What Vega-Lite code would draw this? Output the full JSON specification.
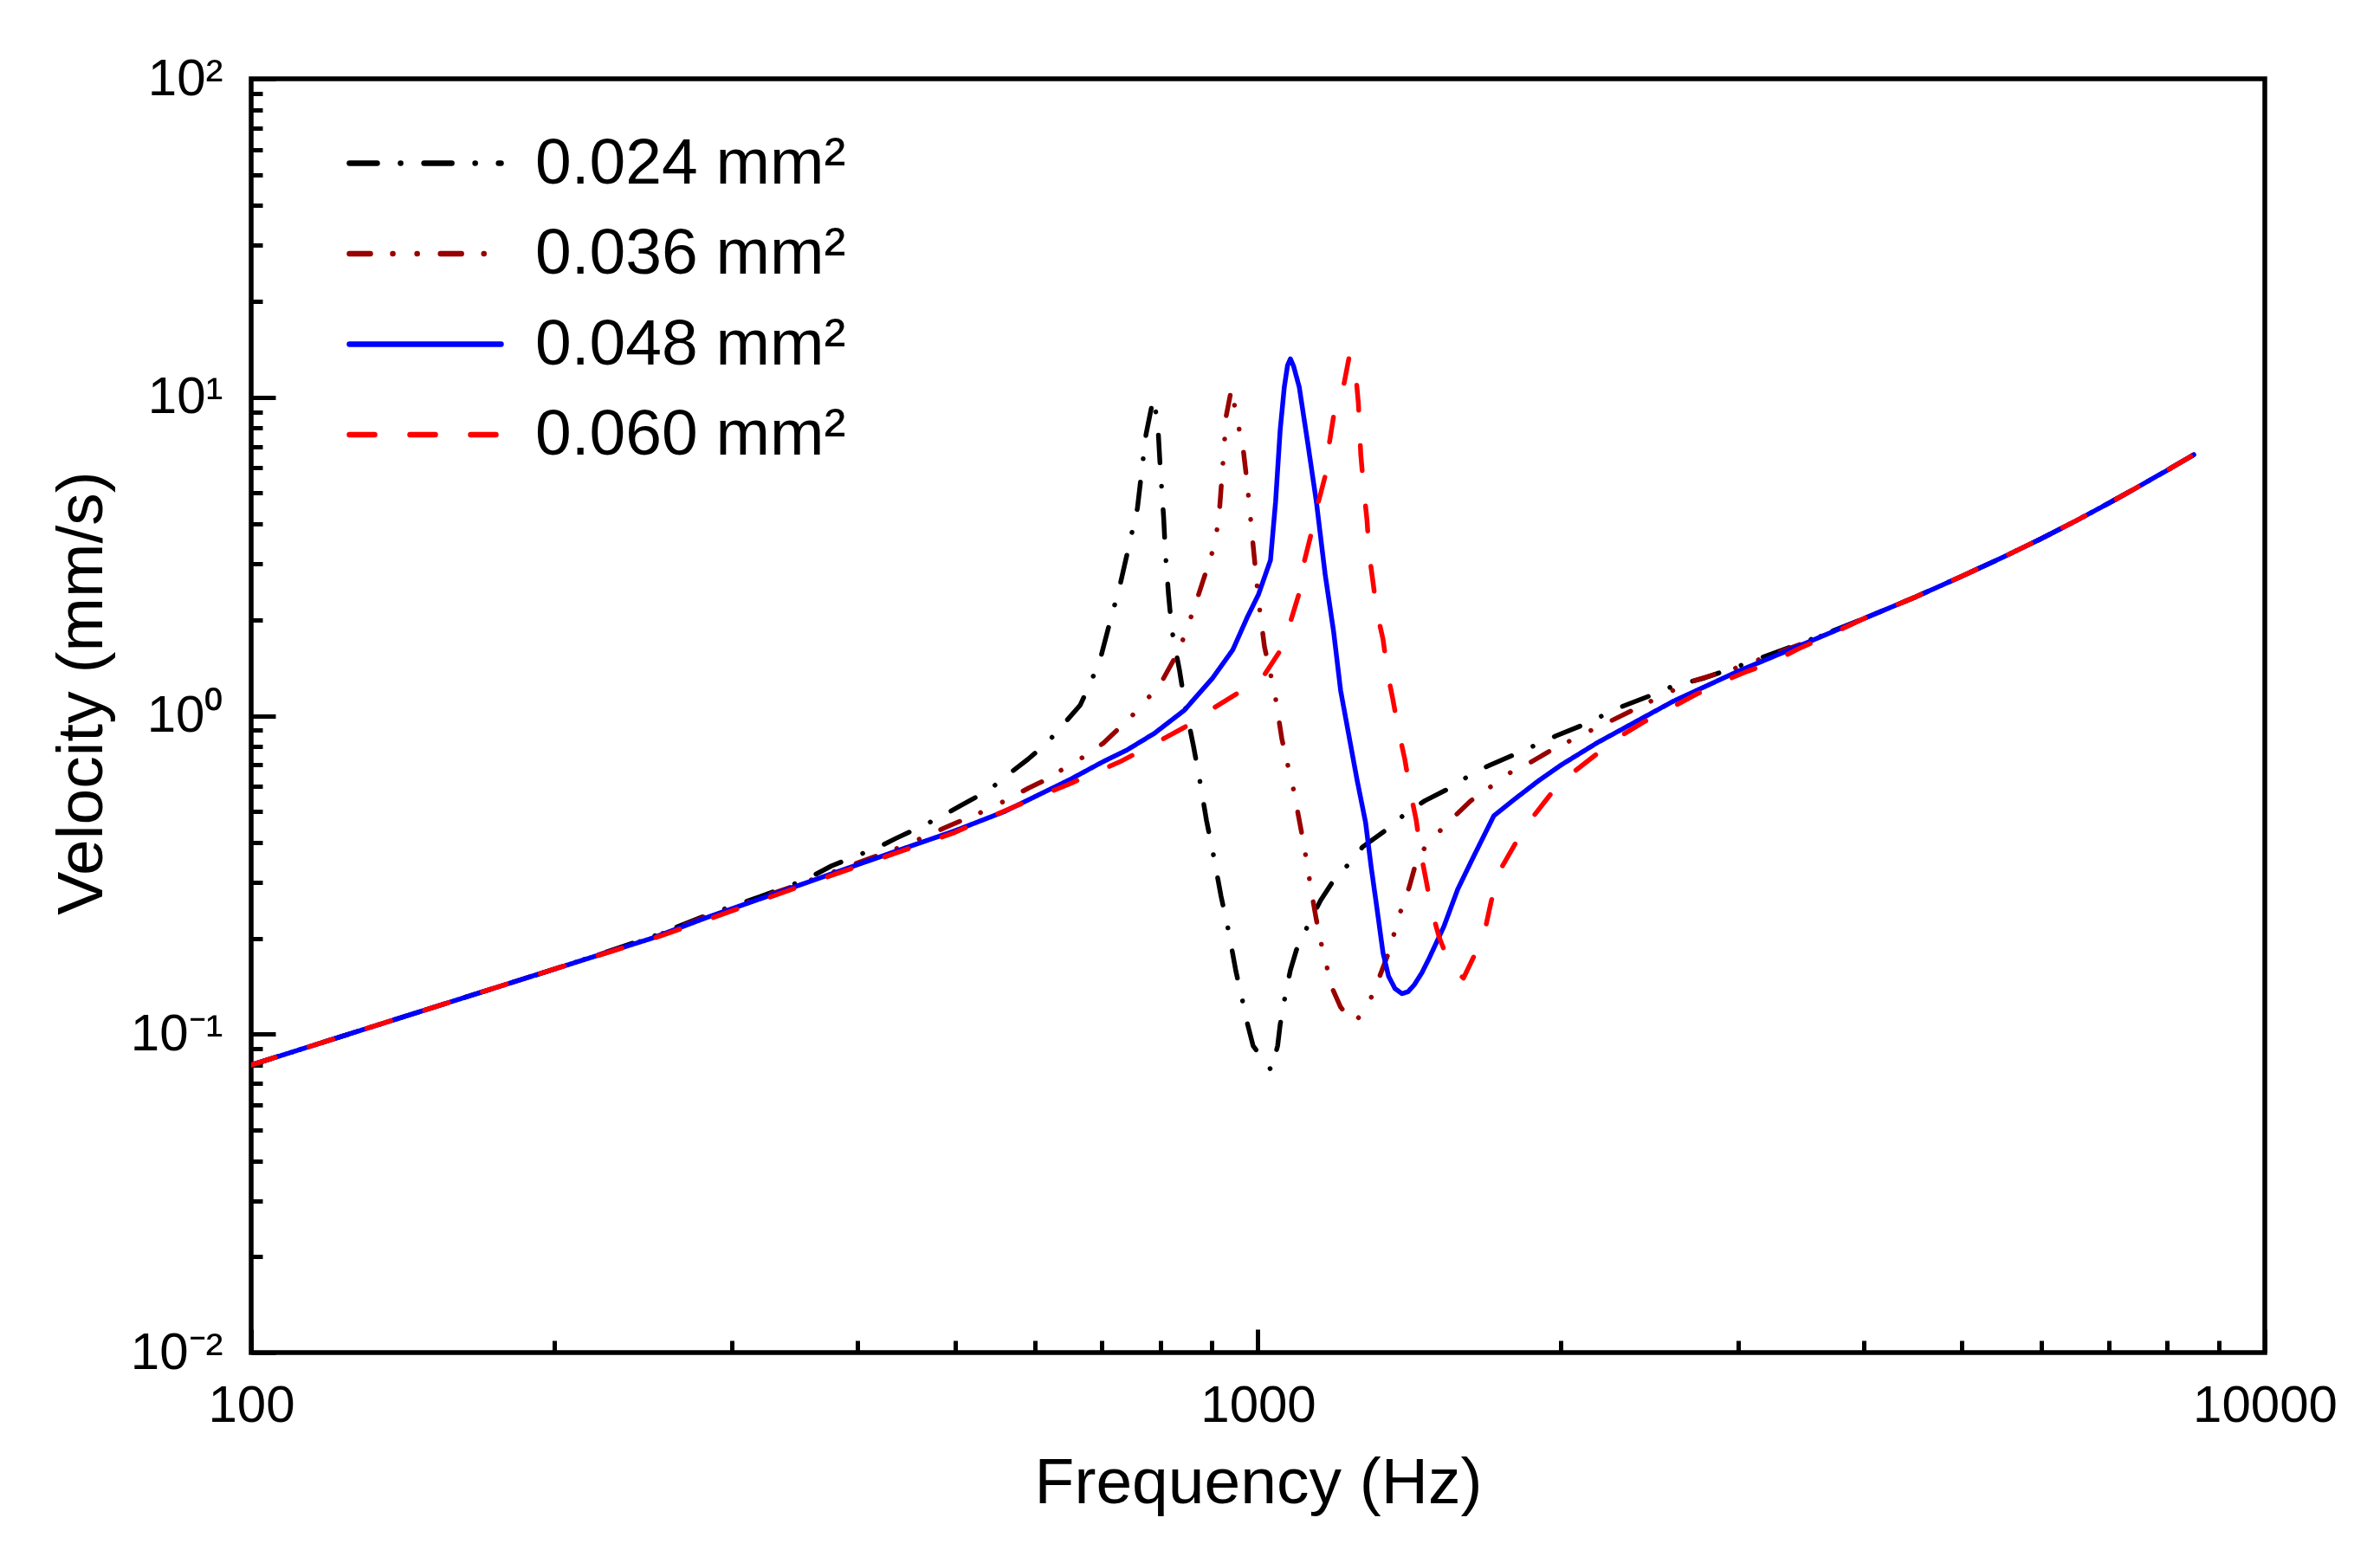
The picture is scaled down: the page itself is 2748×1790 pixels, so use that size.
{
  "$schema": "https://vega.github.io/schema/vega-lite/v6.json",
  "width": 2325,
  "height": 1471,
  "autosize": "none",
  "padding": {"left": 290, "top": 91, "right": 133, "bottom": 228},
  "background": "white",
  "config": {
    "font": "Liberation Sans",
    "view": {"stroke": "black", "strokeWidth": 5.5},
    "axis": {
      "domain": false,
      "grid": false,
      "tickColor": "black",
      "tickWidth": 5,
      "labelFont": "Liberation Sans",
      "labelFontSize": 60,
      "labelColor": "black",
      "titleFont": "Liberation Sans",
      "titleFontSize": 75,
      "titleFontWeight": "normal",
      "titleColor": "black",
      "labelOverlap": false,
      "labelBound": false,
      "labelFlush": false
    }
  },
  "data": {
    "values": [
      {"area": "0.024 mm²", "freq": 100, "vel": 0.080},
      {"area": "0.024 mm²", "freq": 125, "vel": 0.100},
      {"area": "0.024 mm²", "freq": 160, "vel": 0.128},
      {"area": "0.024 mm²", "freq": 200, "vel": 0.160},
      {"area": "0.024 mm²", "freq": 250, "vel": 0.202},
      {"area": "0.024 mm²", "freq": 283, "vel": 0.236},
      {"area": "0.024 mm²", "freq": 320, "vel": 0.270},
      {"area": "0.024 mm²", "freq": 355, "vel": 0.305},
      {"area": "0.024 mm²", "freq": 377, "vel": 0.3375},
      {"area": "0.024 mm²", "freq": 402, "vel": 0.366},
      {"area": "0.024 mm²", "freq": 420, "vel": 0.387},
      {"area": "0.024 mm²", "freq": 437, "vel": 0.412},
      {"area": "0.024 mm²", "freq": 466, "vel": 0.453},
      {"area": "0.024 mm²", "freq": 486, "vel": 0.485},
      {"area": "0.024 mm²", "freq": 507, "vel": 0.523},
      {"area": "0.024 mm²", "freq": 541, "vel": 0.585},
      {"area": "0.024 mm²", "freq": 560, "vel": 0.64},
      {"area": "0.024 mm²", "freq": 591, "vel": 0.73},
      {"area": "0.024 mm²", "freq": 617, "vel": 0.82},
      {"area": "0.024 mm²", "freq": 637, "vel": 0.919},
      {"area": "0.024 mm²", "freq": 666, "vel": 1.08},
      {"area": "0.024 mm²", "freq": 684, "vel": 1.3},
      {"area": "0.024 mm²", "freq": 697, "vel": 1.5},
      {"area": "0.024 mm²", "freq": 711, "vel": 1.91},
      {"area": "0.024 mm²", "freq": 729, "vel": 2.55},
      {"area": "0.024 mm²", "freq": 742, "vel": 3.26},
      {"area": "0.024 mm²", "freq": 759, "vel": 4.48},
      {"area": "0.024 mm²", "freq": 774, "vel": 7.63},
      {"area": "0.024 mm²", "freq": 787, "vel": 9.9},
      {"area": "0.024 mm²", "freq": 795, "vel": 8.38},
      {"area": "0.024 mm²", "freq": 799, "vel": 6.3},
      {"area": "0.024 mm²", "freq": 806, "vel": 4.18},
      {"area": "0.024 mm²", "freq": 809, "vel": 3.27},
      {"area": "0.024 mm²", "freq": 815, "vel": 2.40},
      {"area": "0.024 mm²", "freq": 821, "vel": 1.865},
      {"area": "0.024 mm²", "freq": 836, "vel": 1.38},
      {"area": "0.024 mm²", "freq": 846, "vel": 1.09},
      {"area": "0.024 mm²", "freq": 863, "vel": 0.80},
      {"area": "0.024 mm²", "freq": 875, "vel": 0.631},
      {"area": "0.024 mm²", "freq": 889, "vel": 0.468},
      {"area": "0.024 mm²", "freq": 903, "vel": 0.366},
      {"area": "0.024 mm²", "freq": 919, "vel": 0.271},
      {"area": "0.024 mm²", "freq": 934, "vel": 0.214},
      {"area": "0.024 mm²", "freq": 951, "vel": 0.157},
      {"area": "0.024 mm²", "freq": 967, "vel": 0.124},
      {"area": "0.024 mm²", "freq": 976, "vel": 0.108},
      {"area": "0.024 mm²", "freq": 989, "vel": 0.0918},
      {"area": "0.024 mm²", "freq": 1031, "vel": 0.077},
      {"area": "0.024 mm²", "freq": 1046, "vel": 0.092},
      {"area": "0.024 mm²", "freq": 1052, "vel": 0.107},
      {"area": "0.024 mm²", "freq": 1066, "vel": 0.136},
      {"area": "0.024 mm²", "freq": 1077, "vel": 0.159},
      {"area": "0.024 mm²", "freq": 1092, "vel": 0.184},
      {"area": "0.024 mm²", "freq": 1127, "vel": 0.2275},
      {"area": "0.024 mm²", "freq": 1154, "vel": 0.263},
      {"area": "0.024 mm²", "freq": 1184, "vel": 0.298},
      {"area": "0.024 mm²", "freq": 1243, "vel": 0.355},
      {"area": "0.024 mm²", "freq": 1270, "vel": 0.387},
      {"area": "0.024 mm²", "freq": 1353, "vel": 0.447},
      {"area": "0.024 mm²", "freq": 1399, "vel": 0.491},
      {"area": "0.024 mm²", "freq": 1464, "vel": 0.54},
      {"area": "0.024 mm²", "freq": 1563, "vel": 0.60},
      {"area": "0.024 mm²", "freq": 1623, "vel": 0.651},
      {"area": "0.024 mm²", "freq": 1689, "vel": 0.693},
      {"area": "0.024 mm²", "freq": 1810, "vel": 0.762},
      {"area": "0.024 mm²", "freq": 1975, "vel": 0.863},
      {"area": "0.024 mm²", "freq": 2104, "vel": 0.936},
      {"area": "0.024 mm²", "freq": 2286, "vel": 1.061},
      {"area": "0.024 mm²", "freq": 2470, "vel": 1.166},
      {"area": "0.024 mm²", "freq": 2575, "vel": 1.233},
      {"area": "0.024 mm²", "freq": 2776, "vel": 1.313},
      {"area": "0.024 mm²", "freq": 3000, "vel": 1.43},
      {"area": "0.024 mm²", "freq": 3500, "vel": 1.71},
      {"area": "0.024 mm²", "freq": 4000, "vel": 2.02},
      {"area": "0.024 mm²", "freq": 4500, "vel": 2.36},
      {"area": "0.024 mm²", "freq": 5000, "vel": 2.74},
      {"area": "0.024 mm²", "freq": 5500, "vel": 3.15},
      {"area": "0.024 mm²", "freq": 6000, "vel": 3.6},
      {"area": "0.024 mm²", "freq": 6500, "vel": 4.1},
      {"area": "0.024 mm²", "freq": 7000, "vel": 4.65},
      {"area": "0.024 mm²", "freq": 7500, "vel": 5.25},
      {"area": "0.024 mm²", "freq": 8000, "vel": 5.9},
      {"area": "0.024 mm²", "freq": 8500, "vel": 6.6},

      {"area": "0.036 mm²", "freq": 100, "vel": 0.080},
      {"area": "0.036 mm²", "freq": 125, "vel": 0.100},
      {"area": "0.036 mm²", "freq": 160, "vel": 0.128},
      {"area": "0.036 mm²", "freq": 200, "vel": 0.160},
      {"area": "0.036 mm²", "freq": 250, "vel": 0.201},
      {"area": "0.036 mm²", "freq": 283, "vel": 0.234},
      {"area": "0.036 mm²", "freq": 355, "vel": 0.300},
      {"area": "0.036 mm²", "freq": 445, "vel": 0.39},
      {"area": "0.036 mm²", "freq": 495, "vel": 0.453},
      {"area": "0.036 mm²", "freq": 519, "vel": 0.482},
      {"area": "0.036 mm²", "freq": 543, "vel": 0.513},
      {"area": "0.036 mm²", "freq": 564, "vel": 0.546},
      {"area": "0.036 mm²", "freq": 592, "vel": 0.593},
      {"area": "0.036 mm²", "freq": 617, "vel": 0.631},
      {"area": "0.036 mm²", "freq": 646, "vel": 0.693},
      {"area": "0.036 mm²", "freq": 676, "vel": 0.752},
      {"area": "0.036 mm²", "freq": 702, "vel": 0.82},
      {"area": "0.036 mm²", "freq": 726, "vel": 0.907},
      {"area": "0.036 mm²", "freq": 757, "vel": 1.03},
      {"area": "0.036 mm²", "freq": 800, "vel": 1.258},
      {"area": "0.036 mm²", "freq": 833, "vel": 1.585},
      {"area": "0.036 mm²", "freq": 849, "vel": 1.85},
      {"area": "0.036 mm²", "freq": 871, "vel": 2.35},
      {"area": "0.036 mm²", "freq": 892, "vel": 2.96},
      {"area": "0.036 mm²", "freq": 907, "vel": 3.49},
      {"area": "0.036 mm²", "freq": 916, "vel": 4.48},
      {"area": "0.036 mm²", "freq": 925, "vel": 6.82},
      {"area": "0.036 mm²", "freq": 930, "vel": 8.75},
      {"area": "0.036 mm²", "freq": 941, "vel": 10.6},
      {"area": "0.036 mm²", "freq": 952, "vel": 8.75},
      {"area": "0.036 mm²", "freq": 967, "vel": 6.82},
      {"area": "0.036 mm²", "freq": 976, "vel": 5.31},
      {"area": "0.036 mm²", "freq": 989, "vel": 3.42},
      {"area": "0.036 mm²", "freq": 1001, "vel": 2.31},
      {"area": "0.036 mm²", "freq": 1015, "vel": 1.645},
      {"area": "0.036 mm²", "freq": 1039, "vel": 1.18},
      {"area": "0.036 mm²", "freq": 1056, "vel": 0.847},
      {"area": "0.036 mm²", "freq": 1066, "vel": 0.738},
      {"area": "0.036 mm²", "freq": 1081, "vel": 0.619},
      {"area": "0.036 mm²", "freq": 1092, "vel": 0.523},
      {"area": "0.036 mm²", "freq": 1103, "vel": 0.442},
      {"area": "0.036 mm²", "freq": 1113, "vel": 0.378},
      {"area": "0.036 mm²", "freq": 1123, "vel": 0.317},
      {"area": "0.036 mm²", "freq": 1132, "vel": 0.271},
      {"area": "0.036 mm²", "freq": 1143, "vel": 0.228},
      {"area": "0.036 mm²", "freq": 1154, "vel": 0.196},
      {"area": "0.036 mm²", "freq": 1170, "vel": 0.164},
      {"area": "0.036 mm²", "freq": 1182, "vel": 0.142},
      {"area": "0.036 mm²", "freq": 1208, "vel": 0.1216},
      {"area": "0.036 mm²", "freq": 1230, "vel": 0.113},
      {"area": "0.036 mm²", "freq": 1250, "vel": 0.110},
      {"area": "0.036 mm²", "freq": 1272, "vel": 0.117},
      {"area": "0.036 mm²", "freq": 1295, "vel": 0.130},
      {"area": "0.036 mm²", "freq": 1321, "vel": 0.152},
      {"area": "0.036 mm²", "freq": 1348, "vel": 0.18},
      {"area": "0.036 mm²", "freq": 1366, "vel": 0.208},
      {"area": "0.036 mm²", "freq": 1385, "vel": 0.242},
      {"area": "0.036 mm²", "freq": 1413, "vel": 0.289},
      {"area": "0.036 mm²", "freq": 1430, "vel": 0.331},
      {"area": "0.036 mm²", "freq": 1464, "vel": 0.385},
      {"area": "0.036 mm²", "freq": 1514, "vel": 0.433},
      {"area": "0.036 mm²", "freq": 1576, "vel": 0.491},
      {"area": "0.036 mm²", "freq": 1626, "vel": 0.54},
      {"area": "0.036 mm²", "freq": 1705, "vel": 0.60},
      {"area": "0.036 mm²", "freq": 1775, "vel": 0.659},
      {"area": "0.036 mm²", "freq": 1868, "vel": 0.716},
      {"area": "0.036 mm²", "freq": 1951, "vel": 0.776},
      {"area": "0.036 mm²", "freq": 2129, "vel": 0.891},
      {"area": "0.036 mm²", "freq": 2246, "vel": 0.966},
      {"area": "0.036 mm²", "freq": 2575, "vel": 1.195},
      {"area": "0.036 mm²", "freq": 2695, "vel": 1.28},
      {"area": "0.036 mm²", "freq": 3000, "vel": 1.42},
      {"area": "0.036 mm²", "freq": 3500, "vel": 1.70},
      {"area": "0.036 mm²", "freq": 4000, "vel": 2.02},
      {"area": "0.036 mm²", "freq": 4500, "vel": 2.36},
      {"area": "0.036 mm²", "freq": 5000, "vel": 2.74},
      {"area": "0.036 mm²", "freq": 5500, "vel": 3.15},
      {"area": "0.036 mm²", "freq": 6000, "vel": 3.6},
      {"area": "0.036 mm²", "freq": 6500, "vel": 4.1},
      {"area": "0.036 mm²", "freq": 7000, "vel": 4.65},
      {"area": "0.036 mm²", "freq": 7500, "vel": 5.25},
      {"area": "0.036 mm²", "freq": 8000, "vel": 5.9},
      {"area": "0.036 mm²", "freq": 8500, "vel": 6.6},

      {"area": "0.048 mm²", "freq": 100, "vel": 0.080},
      {"area": "0.048 mm²", "freq": 125, "vel": 0.100},
      {"area": "0.048 mm²", "freq": 160, "vel": 0.128},
      {"area": "0.048 mm²", "freq": 200, "vel": 0.160},
      {"area": "0.048 mm²", "freq": 250, "vel": 0.200},
      {"area": "0.048 mm²", "freq": 283, "vel": 0.232},
      {"area": "0.048 mm²", "freq": 355, "vel": 0.298},
      {"area": "0.048 mm²", "freq": 445, "vel": 0.383},
      {"area": "0.048 mm²", "freq": 500, "vel": 0.435},
      {"area": "0.048 mm²", "freq": 560, "vel": 0.50},
      {"area": "0.048 mm²", "freq": 651, "vel": 0.631},
      {"area": "0.048 mm²", "freq": 701, "vel": 0.716},
      {"area": "0.048 mm²", "freq": 741, "vel": 0.78},
      {"area": "0.048 mm²", "freq": 789, "vel": 0.88},
      {"area": "0.048 mm²", "freq": 845, "vel": 1.04},
      {"area": "0.048 mm²", "freq": 901, "vel": 1.31},
      {"area": "0.048 mm²", "freq": 944, "vel": 1.61},
      {"area": "0.048 mm²", "freq": 976, "vel": 2.04},
      {"area": "0.048 mm²", "freq": 1001, "vel": 2.40},
      {"area": "0.048 mm²", "freq": 1029, "vel": 3.08},
      {"area": "0.048 mm²", "freq": 1041, "vel": 4.68},
      {"area": "0.048 mm²", "freq": 1052, "vel": 7.87},
      {"area": "0.048 mm²", "freq": 1062, "vel": 10.76},
      {"area": "0.048 mm²", "freq": 1070, "vel": 12.6},
      {"area": "0.048 mm²", "freq": 1077, "vel": 13.2},
      {"area": "0.048 mm²", "freq": 1085, "vel": 12.5},
      {"area": "0.048 mm²", "freq": 1099, "vel": 10.76},
      {"area": "0.048 mm²", "freq": 1121, "vel": 7.12},
      {"area": "0.048 mm²", "freq": 1143, "vel": 4.68},
      {"area": "0.048 mm²", "freq": 1166, "vel": 2.78},
      {"area": "0.048 mm²", "freq": 1189, "vel": 1.83},
      {"area": "0.048 mm²", "freq": 1208, "vel": 1.20},
      {"area": "0.048 mm²", "freq": 1230, "vel": 0.88},
      {"area": "0.048 mm²", "freq": 1254, "vel": 0.631},
      {"area": "0.048 mm²", "freq": 1279, "vel": 0.462},
      {"area": "0.048 mm²", "freq": 1295, "vel": 0.3375},
      {"area": "0.048 mm²", "freq": 1313, "vel": 0.247},
      {"area": "0.048 mm²", "freq": 1331, "vel": 0.180},
      {"area": "0.048 mm²", "freq": 1348, "vel": 0.152},
      {"area": "0.048 mm²", "freq": 1368, "vel": 0.139},
      {"area": "0.048 mm²", "freq": 1390, "vel": 0.134},
      {"area": "0.048 mm²", "freq": 1410, "vel": 0.136},
      {"area": "0.048 mm²", "freq": 1430, "vel": 0.143},
      {"area": "0.048 mm²", "freq": 1455, "vel": 0.156},
      {"area": "0.048 mm²", "freq": 1479, "vel": 0.173},
      {"area": "0.048 mm²", "freq": 1530, "vel": 0.218},
      {"area": "0.048 mm²", "freq": 1579, "vel": 0.285},
      {"area": "0.048 mm²", "freq": 1633, "vel": 0.355},
      {"area": "0.048 mm²", "freq": 1689, "vel": 0.44},
      {"area": "0.048 mm²", "freq": 1715, "vel": 0.485},
      {"area": "0.048 mm²", "freq": 1800, "vel": 0.548},
      {"area": "0.048 mm²", "freq": 1900, "vel": 0.625},
      {"area": "0.048 mm²", "freq": 2000, "vel": 0.70},
      {"area": "0.048 mm²", "freq": 2172, "vel": 0.822},
      {"area": "0.048 mm²", "freq": 2585, "vel": 1.11},
      {"area": "0.048 mm²", "freq": 3000, "vel": 1.38},
      {"area": "0.048 mm²", "freq": 3500, "vel": 1.69},
      {"area": "0.048 mm²", "freq": 4000, "vel": 2.02},
      {"area": "0.048 mm²", "freq": 4500, "vel": 2.36},
      {"area": "0.048 mm²", "freq": 5000, "vel": 2.74},
      {"area": "0.048 mm²", "freq": 5500, "vel": 3.15},
      {"area": "0.048 mm²", "freq": 6000, "vel": 3.6},
      {"area": "0.048 mm²", "freq": 6500, "vel": 4.1},
      {"area": "0.048 mm²", "freq": 7000, "vel": 4.65},
      {"area": "0.048 mm²", "freq": 7500, "vel": 5.25},
      {"area": "0.048 mm²", "freq": 8000, "vel": 5.9},
      {"area": "0.048 mm²", "freq": 8500, "vel": 6.6},

      {"area": "0.060 mm²", "freq": 100, "vel": 0.080},
      {"area": "0.060 mm²", "freq": 125, "vel": 0.100},
      {"area": "0.060 mm²", "freq": 160, "vel": 0.128},
      {"area": "0.060 mm²", "freq": 200, "vel": 0.160},
      {"area": "0.060 mm²", "freq": 250, "vel": 0.199},
      {"area": "0.060 mm²", "freq": 283, "vel": 0.228},
      {"area": "0.060 mm²", "freq": 355, "vel": 0.295},
      {"area": "0.060 mm²", "freq": 445, "vel": 0.378},
      {"area": "0.060 mm²", "freq": 500, "vel": 0.43},
      {"area": "0.060 mm²", "freq": 577, "vel": 0.523},
      {"area": "0.060 mm²", "freq": 651, "vel": 0.612},
      {"area": "0.060 mm²", "freq": 729, "vel": 0.716},
      {"area": "0.060 mm²", "freq": 801, "vel": 0.838},
      {"area": "0.060 mm²", "freq": 845, "vel": 0.919},
      {"area": "0.060 mm²", "freq": 905, "vel": 1.06},
      {"area": "0.060 mm²", "freq": 956, "vel": 1.18},
      {"area": "0.060 mm²", "freq": 1010, "vel": 1.313},
      {"area": "0.060 mm²", "freq": 1050, "vel": 1.585},
      {"area": "0.060 mm²", "freq": 1077, "vel": 1.97},
      {"area": "0.060 mm²", "freq": 1099, "vel": 2.43},
      {"area": "0.060 mm²", "freq": 1112, "vel": 3.06},
      {"area": "0.060 mm²", "freq": 1129, "vel": 3.71},
      {"area": "0.060 mm²", "freq": 1148, "vel": 4.68},
      {"area": "0.060 mm²", "freq": 1166, "vel": 5.65},
      {"area": "0.060 mm²", "freq": 1178, "vel": 7.27},
      {"area": "0.060 mm²", "freq": 1189, "vel": 8.75},
      {"area": "0.060 mm²", "freq": 1218, "vel": 11.1},
      {"area": "0.060 mm²", "freq": 1233, "vel": 13.6},
      {"area": "0.060 mm²", "freq": 1250, "vel": 12.0},
      {"area": "0.060 mm²", "freq": 1258, "vel": 9.6},
      {"area": "0.060 mm²", "freq": 1265, "vel": 6.6},
      {"area": "0.060 mm²", "freq": 1275, "vel": 4.98},
      {"area": "0.060 mm²", "freq": 1283, "vel": 4.13},
      {"area": "0.060 mm²", "freq": 1290, "vel": 3.2},
      {"area": "0.060 mm²", "freq": 1300, "vel": 2.67},
      {"area": "0.060 mm²", "freq": 1313, "vel": 2.10},
      {"area": "0.060 mm²", "freq": 1331, "vel": 1.74},
      {"area": "0.060 mm²", "freq": 1345, "vel": 1.36},
      {"area": "0.060 mm²", "freq": 1361, "vel": 1.13},
      {"area": "0.060 mm²", "freq": 1380, "vel": 0.89},
      {"area": "0.060 mm²", "freq": 1399, "vel": 0.73},
      {"area": "0.060 mm²", "freq": 1416, "vel": 0.582},
      {"area": "0.060 mm²", "freq": 1436, "vel": 0.47},
      {"area": "0.060 mm²", "freq": 1450, "vel": 0.375},
      {"area": "0.060 mm²", "freq": 1468, "vel": 0.307},
      {"area": "0.060 mm²", "freq": 1488, "vel": 0.2436},
      {"area": "0.060 mm²", "freq": 1514, "vel": 0.2007},
      {"area": "0.060 mm²", "freq": 1540, "vel": 0.175},
      {"area": "0.060 mm²", "freq": 1563, "vel": 0.159},
      {"area": "0.060 mm²", "freq": 1600, "vel": 0.150},
      {"area": "0.060 mm²", "freq": 1649, "vel": 0.183},
      {"area": "0.060 mm²", "freq": 1682, "vel": 0.215},
      {"area": "0.060 mm²", "freq": 1705, "vel": 0.262},
      {"area": "0.060 mm²", "freq": 1742, "vel": 0.33},
      {"area": "0.060 mm²", "freq": 1810, "vel": 0.407},
      {"area": "0.060 mm²", "freq": 1879, "vel": 0.485},
      {"area": "0.060 mm²", "freq": 1959, "vel": 0.574},
      {"area": "0.060 mm²", "freq": 2050, "vel": 0.659},
      {"area": "0.060 mm²", "freq": 2163, "vel": 0.752},
      {"area": "0.060 mm²", "freq": 2278, "vel": 0.853},
      {"area": "0.060 mm²", "freq": 2431, "vel": 0.966},
      {"area": "0.060 mm²", "freq": 2575, "vel": 1.061},
      {"area": "0.060 mm²", "freq": 2722, "vel": 1.166},
      {"area": "0.060 mm²", "freq": 2883, "vel": 1.273},
      {"area": "0.060 mm²", "freq": 3066, "vel": 1.38},
      {"area": "0.060 mm²", "freq": 3240, "vel": 1.47},
      {"area": "0.060 mm²", "freq": 3431, "vel": 1.614},
      {"area": "0.060 mm²", "freq": 3649, "vel": 1.76},
      {"area": "0.060 mm²", "freq": 4000, "vel": 2.02},
      {"area": "0.060 mm²", "freq": 4500, "vel": 2.36},
      {"area": "0.060 mm²", "freq": 5000, "vel": 2.74},
      {"area": "0.060 mm²", "freq": 5500, "vel": 3.15},
      {"area": "0.060 mm²", "freq": 6000, "vel": 3.6},
      {"area": "0.060 mm²", "freq": 6500, "vel": 4.1},
      {"area": "0.060 mm²", "freq": 7000, "vel": 4.65},
      {"area": "0.060 mm²", "freq": 7500, "vel": 5.25},
      {"area": "0.060 mm²", "freq": 8000, "vel": 5.9},
      {"area": "0.060 mm²", "freq": 8500, "vel": 6.6}
    ]
  },
  "mark": {"type": "line", "strokeWidth": 5.5, "strokeCap": "round", "strokeJoin": "round", "interpolate": "linear", "clip": true},
  "encoding": {
    "x": {
      "field": "freq",
      "type": "quantitative",
      "scale": {"type": "log", "domain": [100, 10000], "nice": false},
      "axis": {
        "title": "Frequency (Hz)",
        "values": [100, 200, 300, 400, 500, 600, 700, 800, 900, 1000, 2000, 3000, 4000, 5000, 6000, 7000, 8000, 9000, 10000],
        "format": "d",
        "labelExpr": "datum.value == 100 || datum.value == 1000 || datum.value == 10000 ? datum.label : ''",
        "tickSize": {"condition": {"test": "datum.value == 100 || datum.value == 1000 || datum.value == 10000", "value": -27}, "value": -14},
        "labelPadding": 59,
        "labelBaseline": "top",
        "titleY": 173,
        "titleBaseline": "alphabetic"
      }
    },
    "y": {
      "field": "vel",
      "type": "quantitative",
      "scale": {"type": "log", "domain": [0.01, 100], "nice": false},
      "axis": {
        "title": "Velocity (mm/s)",
        "values": [0.01, 0.02, 0.03, 0.04, 0.05, 0.06, 0.07, 0.08, 0.09, 0.1, 0.2, 0.3, 0.4, 0.5, 0.6, 0.7, 0.8, 0.9, 1, 2, 3, 4, 5, 6, 7, 8, 9, 10, 20, 30, 40, 50, 60, 70, 80, 90, 100],
        "labelExpr": "datum.value == 100 ? '10²' : datum.value == 10 ? '10¹' : datum.value == 1 ? '10⁰' : datum.value == 0.1 ? '10⁻¹' : datum.value == 0.01 ? '10⁻²' : ''",
        "tickSize": {"condition": {"test": "datum.value == 0.01 || datum.value == 0.1 || datum.value == 1 || datum.value == 10 || datum.value == 100", "value": -28}, "value": -13},
        "labelPadding": 61,
        "labelAlign": "right",
        "labelBaseline": "middle",
        "titleX": -173,
        "titleY": 709,
        "titleAngle": -90,
        "titleAlign": "center",
        "titleBaseline": "alphabetic"
      }
    },
    "color": {
      "field": "area",
      "type": "nominal",
      "scale": {
        "domain": ["0.024 mm²", "0.036 mm²", "0.048 mm²", "0.060 mm²"],
        "range": ["#000000", "#990000", "#0000ff", "#ff0000"]
      },
      "legend": {
        "title": null,
        "orient": "none",
        "legendX": 110,
        "legendY": 60,
        "padding": 0,
        "symbolType": "stroke",
        "symbolSize": 30625,
        "symbolStrokeWidth": 6.5,
        "labelFont": "Liberation Sans",
        "labelFontSize": 75,
        "labelColor": "black",
        "labelOffset": 36,
        "labelLimit": 0,
        "rowPadding": 28.5,
        "clipHeight": 75,
        "encode": {"symbols": {"update": {"strokeCap": {"value": "round"}}}}
      }
    },
    "strokeDash": {
      "field": "area",
      "type": "nominal",
      "scale": {
        "domain": ["0.024 mm²", "0.036 mm²", "0.048 mm²", "0.060 mm²"],
        "range": [[32, 27, 0.1, 27], [24, 26, 0.1, 28, 0.1, 27], [1, 0], [29, 41]]
      },
      "legend": {
        "title": null,
        "orient": "none",
        "legendX": 110,
        "legendY": 60,
        "padding": 0,
        "symbolType": "stroke",
        "symbolSize": 30625,
        "symbolStrokeWidth": 6.5,
        "labelFont": "Liberation Sans",
        "labelFontSize": 75,
        "labelColor": "black",
        "labelOffset": 36,
        "labelLimit": 0,
        "rowPadding": 28.5,
        "clipHeight": 75,
        "encode": {"symbols": {"update": {"strokeCap": {"value": "round"}}}}
      }
    }
  }
}
